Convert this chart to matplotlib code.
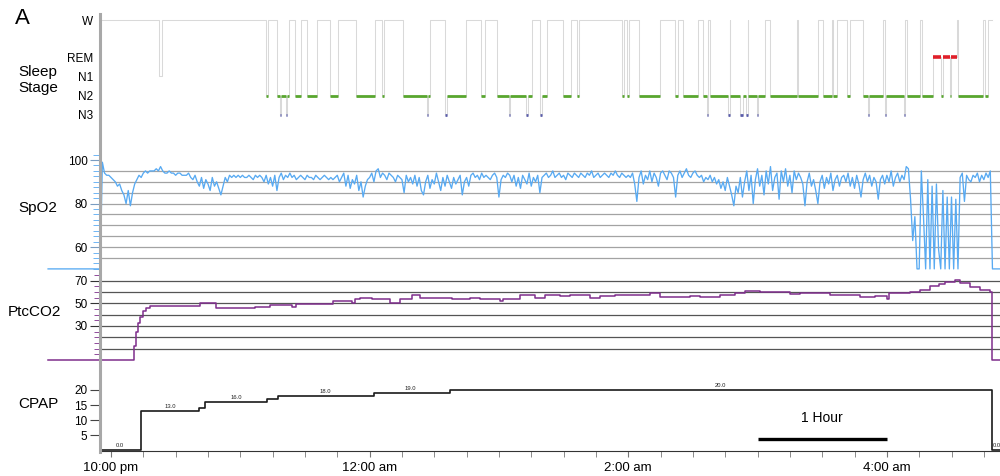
import matplotlib.pyplot as plt
import numpy as np
from matplotlib.lines import Line2D
from matplotlib.ticker import FixedLocator, MultipleLocator

plt.rcParams["font.family"] = ["Liberation Sans", "DejaVu Sans"]

# all times are minutes after 10:00 pm
t_left, t_right = -5.1, 412.5
t_lead = -29.2  # flat "no signal" lead drawn into the label margin

# --- sleep staging: sleep bouts, wake everywhere else ---
stage_y = {"W": 4.9, "REM": 3, "N1": 2, "N2": 1, "N3": 0}
stage_colors = {"N2": "#58a62e", "N3": "#5a5caa", "REM": "#e0202a"}
bout_start = [22.5, 72.0, 77.0, 78.4, 79.0, 81.2, 81.8, 85.4, 91.0, 101.5,
              113.6, 125.6, 135.6, 146.6, 147.3, 155.0, 155.7, 171.6, 178.9, 184.5,
              185.2, 192.6, 193.3, 199.1, 199.8, 209.7, 216.3, 237.1, 239.4, 245.0,
              261.7, 265.4, 274.7, 276.5, 277.9, 286.3, 287.2, 291.9, 293.3, 294.7,
              295.6, 299.6, 300.3, 305.8, 318.8, 330.4, 335.0, 341.5, 348.9, 351.2,
              351.9, 359.1, 359.8, 367.9, 369.3, 376.3, 381.4, 385.1, 386.0, 389.3,
              389.8, 393.0, 405.5]
bout_end = [23.5, 72.8, 78.4, 79.0, 81.2, 81.8, 82.6, 88.2, 95.6, 105.2,
            122.4, 126.5, 146.6, 147.3, 148.0, 155.7, 164.7, 173.4, 184.5, 185.2,
            192.6, 193.3, 195.4, 199.8, 202.3, 213.4, 217.2, 238.0, 240.4, 254.7,
            263.1, 272.4, 276.5, 277.2, 286.3, 287.0, 291.9, 293.3, 294.7, 295.4,
            299.6, 300.3, 303.5, 318.3, 328.1, 334.5, 336.9, 342.9, 351.2, 351.9,
            358.2, 359.8, 367.9, 368.6, 375.4, 381.4, 385.1, 386.0, 389.3, 389.8,
            392.5, 404.6, 406.9]
bout_stage = ["N1", "N2", "N2", "N3", "N2", "N3", "N2", "N2", "N2", "N2",
              "N2", "N2", "N2", "N3", "N2", "N3", "N2", "N2", "N2", "N3",
              "N2", "N3", "N2", "N3", "N2", "N2", "N2", "N2", "N2", "N2",
              "N2", "N2", "N2", "N3", "N2", "N3", "N2", "N3", "N2", "N3",
              "N2", "N3", "N2", "N2", "N2", "N2", "N2", "N2", "N2", "N3",
              "N2", "N3", "N2", "N3", "N2", "N2", "REM", "N2", "REM", "N2",
              "REM", "N2", "N2"]
hyp_end = 408.8

# --- oxygen saturation, one sample per minute from -5 min ---
spo2_first = -5
spo2_values = [
    50, 99, 94, 93, 93,
    92, 91, 90, 88, 89, 86, 84, 80, 86, 79, 85, 89, 91, 93, 92, 94, 95, 94, 95, 95,
    95, 96, 95, 97, 95, 94, 94, 95, 94, 94, 93, 94, 94, 93, 93, 93, 94, 92, 91, 93,
    90, 88, 92, 87, 91, 89, 86, 92, 88, 90, 87, 84, 88, 92, 90, 93, 92, 93, 92, 93,
    92, 93, 92, 92, 93, 92, 91, 93, 92, 93, 92, 90, 93, 89, 92, 88, 93, 86, 92, 94,
    91, 93, 92, 94, 92, 93, 91, 92, 93, 92, 91, 93, 92, 92, 91, 93, 92, 91, 92, 93,
    92, 91, 92, 91, 92, 93, 90, 92, 94, 88, 93, 87, 91, 89, 93, 86, 90, 83, 88, 91,
    92, 94, 90, 95, 96, 92, 94, 93, 91, 94, 93, 92, 90, 93, 92, 91, 85, 93, 90, 92,
    89, 93, 88, 92, 86, 84, 90, 93, 87, 91, 89, 94, 90, 86, 92, 88, 93, 90, 87, 92,
    89, 91, 93, 84, 90, 92, 88, 93, 94, 92, 93, 91, 94, 92, 93, 92, 91, 93, 94, 92,
    83, 91, 93, 92, 94, 93, 90, 93, 88, 92, 87, 93, 91, 89, 94, 88, 92, 90, 93, 85,
    92, 93, 94, 92, 93, 95, 92, 93, 94, 92, 93, 91, 94, 93, 92, 94, 93, 92, 94, 93,
    92, 94, 93, 95, 92, 93, 94, 92, 93, 94, 93, 92, 94, 93, 95, 93, 92, 94, 93, 92,
    93, 92, 94, 89, 81, 92, 95, 89, 93, 91, 95, 90, 94, 92, 88, 94, 95, 93, 91, 95,
    94, 92, 83, 93, 95, 92, 94, 96, 93, 92, 94, 95, 93, 92, 93, 90, 92, 91, 93, 90,
    92, 89, 91, 87, 90, 86, 92, 88, 84, 79, 88, 85, 92, 83, 90, 95, 86, 93, 80, 91,
    96, 88, 93, 84, 95, 89, 97, 86, 92, 94, 82, 95, 90, 96, 88, 93, 85, 95, 91, 94,
    92, 89, 79, 90, 94, 88, 91, 86, 80, 90, 93, 87, 92, 89, 94, 86, 91, 93, 88, 92,
    93, 90, 94, 88, 92, 87, 93, 89, 83, 91, 94, 90, 93, 88, 92, 90, 82, 91, 93, 89,
    93, 90, 95, 88, 92, 94, 90, 93, 91, 97, 96, 82, 63, 74, 50, 50, 95, 74, 50, 91,
    50, 88, 50, 89, 59, 50, 86, 50, 83, 50, 83, 50, 82, 50, 92, 94, 81, 93, 91, 90,
    93, 92, 94, 90, 93, 91, 94, 92, 95, 50,
]
spo2_floor = 50

# --- transcutaneous CO2 (step trace) ---
co2_times = [t_lead, 9.7, 10.7, 11.6, 12.5, 13.5, 14.8, 16.2, 18.1, 41.3,
             48.7, 66.8, 73.8, 84.0, 85.8, 103.0, 111.8, 113.2, 115.5, 121.0,
             129.5, 134.0, 139.7, 143.4, 152.7, 158.2, 166.6, 171.2, 180.5, 181.9,
             189.8, 196.7, 201.4, 208.3, 213.0, 222.3, 226.9, 233.9, 250.1, 254.7,
             268.7, 273.3, 282.6, 289.5, 294.2, 301.1, 315.1, 319.7, 333.6, 347.5,
             354.5, 360.0, 361.0, 370.7, 375.4, 380.0, 384.0, 387.0, 391.6, 394.0,
             398.6, 403.2, 407.9, 408.8, t_right]
co2_values = [0, 0, 12, 25, 33, 38, 43, 46, 47.5, 50,
              46, 47, 48.5, 47, 49, 52, 50, 53.5, 55, 54,
              50, 54, 57, 55, 54.5, 53.5, 55, 53.5, 52, 54,
              57.5, 55, 57.5, 56, 57.5, 55, 56, 57.5, 59, 55.5,
              56.5, 55.5, 57, 59, 60.5, 59.5, 58, 59, 57.5, 55.5,
              56, 54, 59, 59.5, 62, 65.5, 67, 68.5, 70.5, 67.5,
              64.5, 61.5, 59.5, 0, 0]

# --- CPAP pressure (cm H2O) ---
cpap_times = [t_left, 13.9, 40.8, 43.6, 72.4, 77.5, 122.0, 157.3, 408.8, t_right]
cpap_values = [0, 13, 14, 16, 17, 18, 19, 20, 0, 0]
cpap_label_times = [4.2, 27.4, 58.0, 99.3, 139.0, 282.6, 411.0]

# clock ticks
tick_minutes = [0, 120, 240, 360]
tick_labels = ["10:00 pm", "12:00 am", "2:00 am", "4:00 am"]
scale_bar = (300, 360)

fig = plt.figure(figsize=(10, 4.76), dpi=100)
ax_hyp = fig.add_axes([0.1, 0.7374, 0.9, 0.2332])
ax_spo2 = fig.add_axes([0.1, 0.4328, 0.9, 0.2479])
ax_co2 = fig.add_axes([0.1, 0.2395, 0.9, 0.1890])
ax_cpap = fig.add_axes([0.1, 0.0525, 0.9, 0.1534])

for ax in (ax_hyp, ax_spo2, ax_co2, ax_cpap):
    ax.set_xlim(t_left, t_right)
    ax.set_facecolor("none")
    for side in ("top", "right", "bottom"):
        ax.spines[side].set_visible(False)
    ax.tick_params(axis="x", bottom=False, labelbottom=False)
    ax.tick_params(axis="y", labelsize=8.5, pad=2)

# continuous left border running through every panel
fig.add_artist(Line2D([0.1, 0.1], [0.05, 0.97], color="#a8a8a8", lw=2.2))

# hypnogram
step_t = [t_left]
step_y = [stage_y["W"]]
for i, (s, e, st) in enumerate(zip(bout_start, bout_end, bout_stage)):
    step_t.append(s)
    step_y.append(stage_y[st])
    nxt = bout_start[i + 1] if i + 1 < len(bout_start) else None
    if nxt is None or nxt > e + 1e-6:
        step_t.append(e)
        step_y.append(stage_y["W"])
step_t.append(hyp_end)
step_y.append(stage_y["W"])
ax_hyp.plot(step_t, step_y, drawstyle="steps-post", color="#d9d9d9", lw=0.75)
for s, e, st in zip(bout_start, bout_end, bout_stage):
    if st in stage_colors:
        ax_hyp.hlines(stage_y[st], s, e, color=stage_colors[st],
                      lw=2.6 if st == "REM" else 2.0)
ax_hyp.set_ylim(-0.52, 5.23)
ax_hyp.set_yticks([stage_y[k] for k in ("W", "REM", "N1", "N2", "N3")])
ax_hyp.set_yticklabels(["W", "REM", "N1", "N2", "N3"], fontsize=8.5)
ax_hyp.tick_params(axis="y", length=0, pad=5)
ax_hyp.spines["left"].set_visible(False)

# SpO2
spo2_t = np.arange(len(spo2_values)) + spo2_first
spo2_t = np.concatenate([[t_lead], spo2_t, [t_right]])
spo2_v = np.concatenate([[spo2_floor], spo2_values, [spo2_floor]])
for level in range(55, 100, 5):
    ax_spo2.axhline(level, color="#a3a3a3", lw=0.9, zorder=1)
ax_spo2.plot(spo2_t, spo2_v, color="#58aaf2", lw=0.95, clip_on=False, zorder=3)
ax_spo2.set_ylim(49.5, 103.7)
ax_spo2.set_yticks([60, 80, 100])
ax_spo2.yaxis.set_minor_locator(MultipleLocator(2.5))
ax_spo2.tick_params(axis="y", which="major", length=7, color="#7a9cc0")
ax_spo2.tick_params(axis="y", which="minor", length=5, color="#58aaf2")
ax_spo2.spines["left"].set_color("#58aaf2")

# PtcCO2
for level in range(10, 80, 10):
    ax_co2.axhline(level, color="#555555", lw=0.9, zorder=1)
ax_co2.plot(co2_times, co2_values, drawstyle="steps-post", color="#7e2e8c",
            lw=1.1, clip_on=False, zorder=3)
ax_co2.set_ylim(-1.8, 77.5)
ax_co2.set_yticks([30, 50, 70])
ax_co2.yaxis.set_minor_locator(FixedLocator(list(range(5, 80, 5))))
ax_co2.tick_params(axis="y", which="major", length=7, color="#333333")
ax_co2.tick_params(axis="y", which="minor", length=4, color="#7e2e8c")
ax_co2.spines["left"].set_color("#7e2e8c")
ax_co2.spines["left"].set_linewidth(1.4)

# CPAP
ax_cpap.plot(cpap_times, cpap_values, drawstyle="steps-post", color="#1a1a1a",
             lw=1.2, clip_on=False)
for lt in cpap_label_times:
    idx = np.searchsorted(cpap_times, lt, side="right") - 1
    val = cpap_values[idx]
    ax_cpap.text(lt, val + 0.6, f"{val:.1f}", fontsize=4.2, ha="center",
                 va="bottom", color="#222222")
ax_cpap.set_ylim(-0.33, 24)
ax_cpap.set_yticks([5, 10, 15, 20])
ax_cpap.tick_params(axis="y", length=7, color="#444444")
ax_cpap.spines["left"].set_color("#333333")
ax_cpap.spines["bottom"].set_visible(True)
ax_cpap.spines["bottom"].set_color("#333333")
ax_cpap.tick_params(axis="x", bottom=True, labelbottom=True, length=4,
                    color="#777777", labelsize=9.5, pad=4)
ax_cpap.tick_params(axis="x", which="minor", bottom=True, length=4, color="#777777")
ax_cpap.set_xticks(tick_minutes)
ax_cpap.set_xticklabels(tick_labels)
ax_cpap.xaxis.set_minor_locator(MultipleLocator(15))

# one-hour scale bar
ax_cpap.hlines(3.7, scale_bar[0], scale_bar[1], color="black", lw=2.4)
ax_cpap.text(sum(scale_bar) / 2, 10.7, "1 Hour", fontsize=10, ha="center",
             va="center")

# panel titles
fig.text(0.022, 0.962, "A", fontsize=16, ha="center", va="center")
fig.text(0.038, 0.832, "Sleep\nStage", fontsize=11, ha="center", va="center",
         linespacing=1.15)
fig.text(0.038, 0.563, "SpO2", fontsize=11, ha="center", va="center")
fig.text(0.034, 0.345, "PtcCO2", fontsize=11, ha="center", va="center")
fig.text(0.038, 0.151, "CPAP", fontsize=11, ha="center", va="center")

fig.savefig("out.png", dpi=100)
